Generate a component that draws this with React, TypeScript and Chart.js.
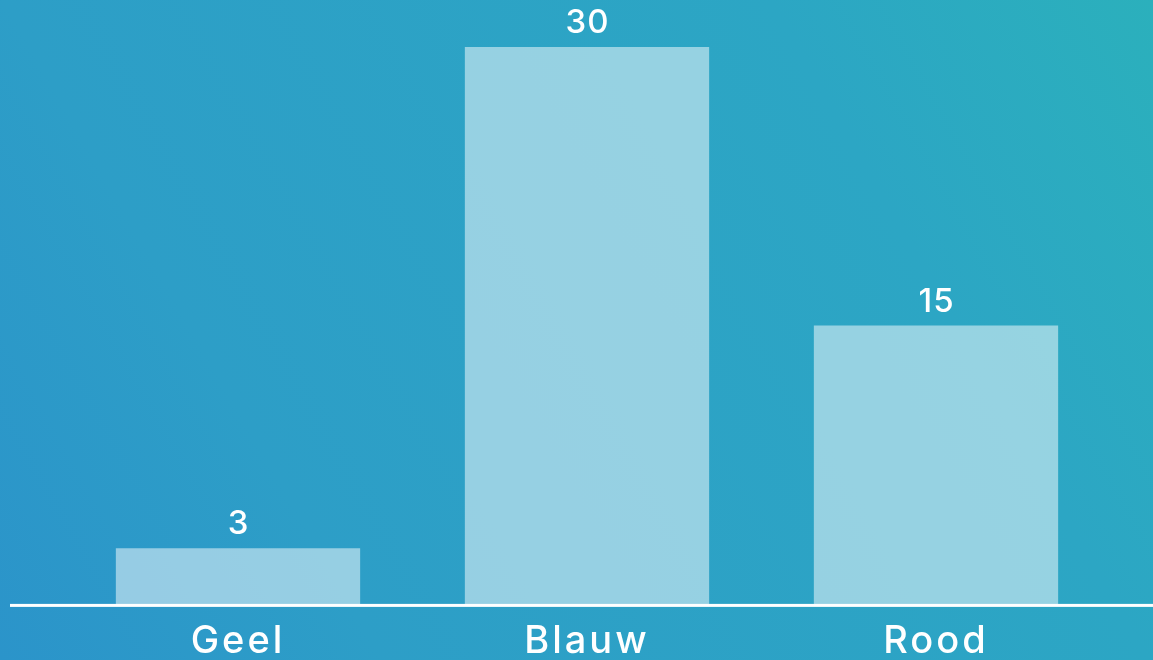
import React, { useEffect, useRef } from "react";
import { Chart, registerables } from "chart.js";

Chart.register(...registerables);

const categories = ["Geel", "Blauw", "Rood"];
const votes = [3, 30, 15];
const yMax = 32;

const FONT = "Inter, 'Open Sans', sans-serif";

// Diagonal blue-to-teal backdrop behind the whole canvas; also widens the
// tracking of the category labels that are drawn right after it
const backdrop = {
  id: "backdrop",
  beforeDraw(chart: any) {
    const { ctx, width, height } = chart;
    const g = ctx.createLinearGradient(0, height, width, 0);
    g.addColorStop(0, "#2b94ca");
    g.addColorStop(0.25, "#2d9ec7");
    g.addColorStop(0.75, "#2ca6c4");
    g.addColorStop(1, "#2bb0bc");
    ctx.save();
    ctx.fillStyle = g;
    ctx.fillRect(0, 0, width, height);
    ctx.restore();
    ctx.letterSpacing = "3px";
  },
  beforeDatasetsDraw(chart: any) {
    chart.ctx.letterSpacing = "0px";
  },
};

// White baseline at zero, running almost edge to edge
const baseline = {
  id: "baseline",
  afterDatasetsDraw(chart: any) {
    const { ctx, width } = chart;
    const y = chart.scales.y.getPixelForValue(0);
    ctx.save();
    ctx.fillStyle = "#ffffff";
    ctx.fillRect(10, y, width - 10, 3);
    ctx.restore();
  },
};

// Value printed above each bar
const valueLabels = {
  id: "valueLabels",
  afterDatasetsDraw(chart: any) {
    const { ctx } = chart;
    const meta = chart.getDatasetMeta(0);
    const data = chart.data.datasets[0].data as number[];
    ctx.save();
    ctx.letterSpacing = "1px";
    ctx.fillStyle = "#ffffff";
    ctx.font = `500 33px ${FONT}`;
    ctx.textAlign = "center";
    ctx.textBaseline = "alphabetic";
    meta.data.forEach((bar: any, i: number) => {
      const { x, y } = bar.getProps(["x", "y"], true);
      ctx.fillText(String(data[i]), x + 0.5, y - 14);
    });
    ctx.restore();
  },
};

export default function App() {
  const canvasRef = useRef<HTMLCanvasElement | null>(null);

  useEffect(() => {
    document.body.style.margin = "0";
    const chart = new Chart(canvasRef.current!, {
      type: "bar",
      data: {
        labels: categories,
        datasets: [
          {
            data: votes,
            backgroundColor: "rgba(255,255,255,0.5)",
            borderWidth: 0,
            barPercentage: 0.7,
            categoryPercentage: 1,
          },
        ],
      },
      options: {
        animation: false,
        responsive: false,
        maintainAspectRatio: false,
        layout: { padding: { top: 10, left: 63.5, right: 42.5, bottom: 0 } },
        plugins: {
          legend: { display: false },
          tooltip: { enabled: false },
        },
        scales: {
          x: {
            grid: {
              display: true,
              drawOnChartArea: false,
              drawTicks: true,
              tickLength: 20,
              tickColor: "rgba(0,0,0,0)",
            },
            border: { display: false },
            ticks: {
              color: "#ffffff",
              padding: 0,
              font: { family: FONT, size: 38, weight: "500", lineHeight: 0.95 },
            },
          },
          y: {
            display: false,
            min: 0,
            max: yMax,
          },
        },
      },
      plugins: [backdrop, baseline, valueLabels],
    });
    return () => chart.destroy();
  }, []);

  return (
    <div style={{ position: "fixed", left: 0, top: 0, width: 1153, height: 660 }}>
      <canvas ref={canvasRef} width={1153} height={660} style={{ display: "block" }} />
    </div>
  );
}
